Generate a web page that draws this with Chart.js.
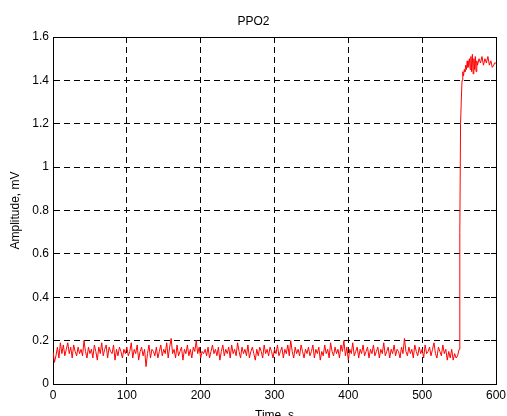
<!DOCTYPE html>
<html><head><meta charset="utf-8">
<script src="https://cdn.jsdelivr.net/npm/chart.js@4/dist/chart.umd.min.js"></script>
<style>html,body{margin:0;padding:0;background:#fff;overflow:hidden}canvas{display:block}</style>
</head><body>
<canvas id="c" width="507" height="416"></canvas>
<script>
const chartTitle = 'PPO2';
const xTitle = 'Time, s';
const yTitle = 'Amplitude, mV';
const xTickValues = [0, 100, 200, 300, 400, 500, 600];
const yTickValues = [0, 0.2, 0.4, 0.6, 0.8, 1, 1.2, 1.4, 1.6];
const yTickLabels = ['0', '0.2', '0.4', '0.6', '0.8', '1', '1.2', '1.4', '1.6'];

// baseline samples, one every 2 s from t = 0 to 548
const baselineStep = 2;
const baselineValues = [
  0.15,0.10,0.13,0.17,0.12,0.19,0.14,0.18,0.13,0.16,
  0.19,0.14,0.17,0.12,0.18,0.15,0.13,0.17,0.14,0.16,
  0.13,0.20,0.15,0.12,0.17,0.14,0.16,0.12,0.18,0.15,
  0.11,0.17,0.14,0.19,0.13,0.16,0.18,0.12,0.17,0.15,
  0.14,0.18,0.11,0.16,0.13,0.17,0.15,0.12,0.16,0.14,
  0.17,0.13,0.15,0.19,0.12,0.16,0.14,0.18,0.11,0.15,
  0.17,0.13,0.16,0.08,0.14,0.18,0.12,0.16,0.15,0.13,
  0.17,0.12,0.15,0.18,0.13,0.16,0.14,0.19,0.12,0.17,
  0.21,0.14,0.16,0.12,0.18,0.13,0.15,0.17,0.11,0.16,
  0.14,0.18,0.13,0.16,0.12,0.17,0.15,0.20,0.14,0.17,
  0.12,0.15,0.14,0.16,0.13,0.17,0.12,0.15,0.18,0.14,
  0.16,0.13,0.17,0.11,0.15,0.18,0.13,0.16,0.14,0.17,
  0.12,0.18,0.14,0.16,0.13,0.19,0.15,0.12,0.17,0.14,
  0.16,0.13,0.18,0.12,0.15,0.17,0.14,0.11,0.16,0.13,
  0.17,0.15,0.12,0.18,0.14,0.16,0.13,0.17,0.15,0.12,
  0.16,0.14,0.18,0.13,0.15,0.17,0.12,0.16,0.14,0.18,
  0.13,0.20,0.15,0.12,0.17,0.14,0.16,0.13,0.18,0.15,
  0.12,0.16,0.14,0.17,0.13,0.15,0.18,0.12,0.16,0.14,
  0.17,0.11,0.15,0.13,0.18,0.14,0.16,0.12,0.19,0.15,
  0.13,0.17,0.14,0.16,0.12,0.18,0.15,0.20,0.13,0.17,
  0.11,0.16,0.14,0.19,0.13,0.15,0.17,0.12,0.16,0.14,
  0.18,0.13,0.15,0.17,0.12,0.16,0.14,0.18,0.13,0.15,
  0.17,0.12,0.16,0.14,0.19,0.13,0.15,0.17,0.12,0.16,
  0.14,0.18,0.13,0.16,0.15,0.12,0.17,0.14,0.21,0.15,
  0.13,0.17,0.14,0.16,0.12,0.18,0.15,0.13,0.17,0.14,
  0.16,0.12,0.18,0.14,0.15,0.17,0.13,0.16,0.19,0.14,
  0.12,0.17,0.15,0.13,0.18,0.14,0.16,0.11,0.15,0.12,
  0.16,0.11,0.14,0.12,0.13
];

// step response after ~550 s
const stepTimes = [550,551,552,553,554,555,556,557,558,559,560,561,562,564,565,566,567,568,569,570,571,572,573,574,575,577,579,581,583,585,587,589,591,593,595,597,598,600];
const stepValues = [0.16,0.70,1.20,1.31,1.40,1.44,1.42,1.45,1.44,1.47,1.45,1.49,1.46,1.50,1.45,1.51,1.44,1.52,1.43,1.50,1.45,1.51,1.44,1.49,1.47,1.50,1.48,1.51,1.47,1.50,1.48,1.51,1.47,1.49,1.46,1.47,1.48,1.48];

const points = baselineValues.map((v, i) => ({x: i * baselineStep, y: v}))
  .concat(stepTimes.map((t, i) => ({x: t, y: stepValues[i]})));

const fontFamily = '"Liberation Sans", Arial, sans-serif';
Chart.defaults.font.family = fontFamily;
Chart.defaults.font.size = 12;
Chart.defaults.color = '#000';

const gridDash = [6, 4];

new Chart(document.getElementById('c'), {
  type: 'line',
  data: {
    datasets: [{
      data: points,
      borderColor: '#ff0000',
      borderWidth: 1,
      pointRadius: 0,
      tension: 0,
      fill: false,
      xAxisID: 'x',
      yAxisID: 'y'
    }]
  },
  options: {
    responsive: false,
    animation: false,
    events: [],
    layout: { padding: 0 },
    plugins: {
      legend: { display: false },
      tooltip: { enabled: false },
      title: {
        display: true, text: chartTitle, color: '#000',
        font: { size: 12, weight: 'normal', family: fontFamily },
        padding: { top: 14, bottom: 8.6 }
      }
    },
    scales: {
      x: {
        type: 'linear', position: 'bottom', min: 0, max: 600,
        afterBuildTicks: s => { s.ticks = xTickValues.map(v => ({value: v})); },
        afterFit: s => { s.height = 32; s.paddingLeft = 0; s.paddingRight = 0; },
        ticks: { padding: 9, maxRotation: 0, autoSkip: false, color: '#000', callback: v => String(v) },
        grid: { color: '#000', lineWidth: 1, drawTicks: true, tickLength: -5, tickColor: '#000' },
        border: { display: true, color: '#000', width: 1, dash: gridDash },
        title: { display: true, text: xTitle, color: '#000', font: { size: 12, lineHeight: 0.5 }, padding: { top: 0, bottom: -3 } }
      },
      y: {
        type: 'linear', position: 'left', min: 0, max: 1.6,
        afterBuildTicks: s => { s.ticks = yTickValues.map(v => ({value: v})); },
        afterFit: s => { s.width = 53; s.paddingTop = 0; s.paddingBottom = 0; },
        ticks: { padding: 9, color: '#000', callback: (v, i) => yTickLabels[i] },
        grid: { color: '#000', lineWidth: 1, drawTicks: true, tickLength: -5, tickColor: '#000' },
        border: { display: true, color: '#000', width: 1, dash: gridDash },
        title: { display: true, text: yTitle, color: '#000', font: { size: 12 }, padding: { top: 8, bottom: 0 } }
      },
      x2: {
        type: 'linear', position: 'top', min: 0, max: 600,
        afterBuildTicks: s => { s.ticks = xTickValues.map(v => ({value: v})); },
        afterFit: s => { s.height = 0; s.paddingLeft = 0; s.paddingRight = 0; },
        ticks: { display: false },
        grid: { drawOnChartArea: false, drawTicks: true, tickLength: -5, tickColor: '#000' },
        border: { display: true, color: '#000', width: 1 }
      },
      y2: {
        type: 'linear', position: 'right', min: 0, max: 1.6,
        afterBuildTicks: s => { s.ticks = yTickValues.map(v => ({value: v})); },
        afterFit: s => { s.width = 11; s.paddingTop = 0; s.paddingBottom = 0; },
        ticks: { display: false },
        grid: { drawOnChartArea: false, drawTicks: true, tickLength: -5, tickColor: '#000' },
        border: { display: true, color: '#000', width: 1 }
      }
    }
  }
});
</script>
</body></html>
